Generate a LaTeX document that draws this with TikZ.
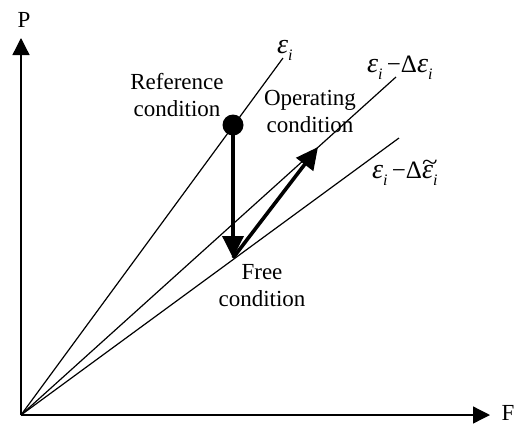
\documentclass[tikz,border=0pt]{standalone}
\usepackage{fontspec}
\usepackage{graphicx}
\setmainfont{Liberation Serif}
\usetikzlibrary{arrows.meta}
\newcommand{\eps}{{\fontsize{28}{28}\selectfont\itshape ε}}
\newcommand{\sbi}{\raisebox{-0.28em}{\fontsize{16}{16}\selectfont\itshape i}}
\newcommand{\teps}{\makebox[0pt][l]{\raisebox{0.3em}{\hspace{0.0em}\scalebox{1.15}[1]{\textasciitilde}}}\eps}
\begin{document}
\begin{tikzpicture}[x=1pt,y=-1pt,
  thin line/.style={line width=1.2pt},
  axis/.style={line width=1.3pt,-{Triangle[length=17pt,width=17pt]}},
  bigarrow/.style={line width=3.6pt,-{Triangle[length=22pt,width=21pt]}},
  lbl/.style={font=\fontsize{23}{27}\selectfont,align=center,inner sep=0pt},
  mlbl/.style={font=\fontsize{25}{27}\selectfont,inner sep=0pt,anchor=west}]
\useasboundingbox (0,0) rectangle (520,424);
\coordinate (O) at (21,415);
\coordinate (Ytip) at (21,38);
\coordinate (Xtip) at (490,415);
\coordinate (L1) at (283,58);
\coordinate (L2) at (396,77);
\coordinate (L3) at (399,138);
\coordinate (free) at (233,258);
\coordinate (op) at (318,147);
\draw[axis] (O) -- (Ytip);
\draw[axis] (O) -- (Xtip);
\draw[thin line] (O) -- (L1);
\draw[thin line] (O) -- (L2);
\draw[thin line] (O) -- (L3);
\node[circle,fill=black,minimum size=21pt,inner sep=0pt] (ref) at (233,125) {};
\draw[bigarrow] (ref.center) -- (free);
\draw[bigarrow] (free) -- (op);
\node[lbl] (P) at (24,20) {P};
\node[lbl] (F) at (508,413) {F};
\node[mlbl] (e1) at (277,50) {\eps\sbi};
\node[mlbl] (e2) at (367,68) {\eps\sbi\,−Δ\eps\sbi};
\node[mlbl] (e3) at (372,173) {\eps\sbi\,−Δ\teps\sbi};
\node[lbl] (tref) at (177,95) {Reference\\condition};
\node[lbl] (top) at (310,111) {Operating\\condition};
\node[lbl] (tfree) at (262,286) {Free\\condition};
\end{tikzpicture}
\end{document}
